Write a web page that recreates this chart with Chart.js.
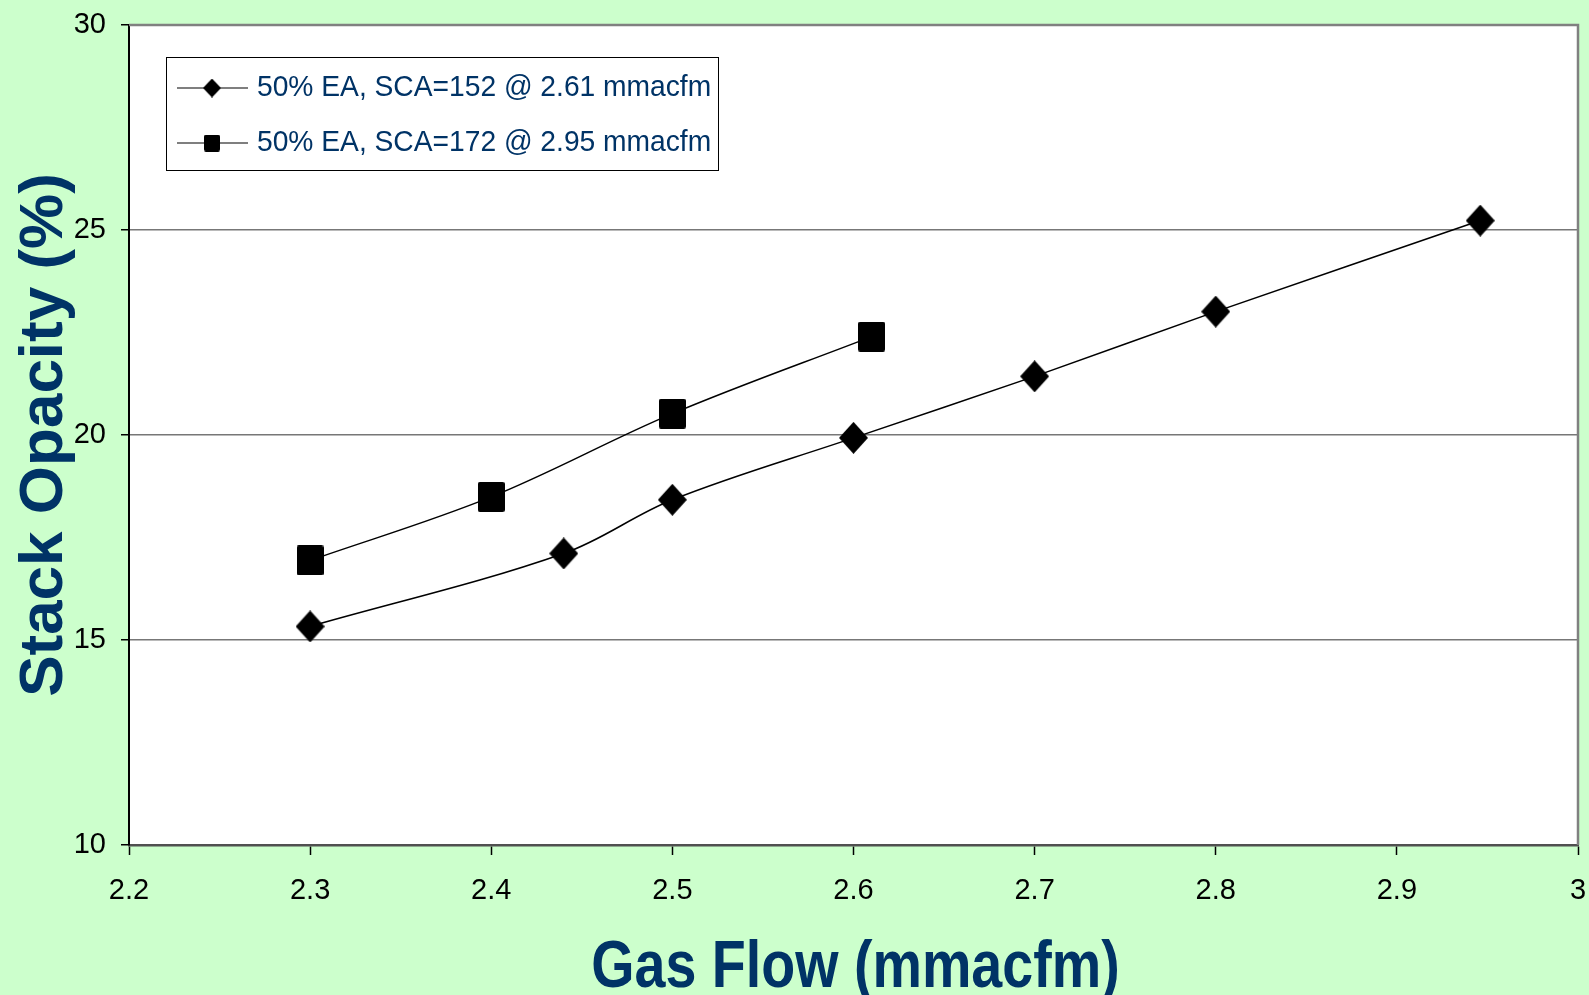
<!DOCTYPE html>
<html>
<head>
<meta charset="utf-8">
<script src="https://cdn.jsdelivr.net/npm/chart.js@4.4.1/dist/chart.umd.min.js"></script>
<style>
  html, body { margin: 0; padding: 0; background: #ccffcc; }
  #chart { display: block; }
</style>
</head>
<body>
<canvas id="chart" width="1589" height="995"></canvas>
<script>
const seriesLabels = ['50% EA, SCA=152 @ 2.61 mmacfm', '50% EA, SCA=172 @ 2.95 mmacfm'];
const flow152 = [2.30, 2.44, 2.50, 2.60, 2.70, 2.80, 2.946];
const opacity152 = [15.33, 17.11, 18.42, 19.93, 21.43, 23.01, 25.23];
const flow172 = [2.30, 2.40, 2.50, 2.61];
const opacity172 = [16.94, 18.49, 20.52, 22.40];
const xTickLabels = ['2.2', '2.3', '2.4', '2.5', '2.6', '2.7', '2.8', '2.9', '3'];
const yTickLabels = ['10', '15', '20', '25', '30'];
const xTitle = 'Gas Flow (mmacfm)';
const yTitle = 'Stack Opacity (%)';

const navy = '#003366';
const baseFont = "'Liberation Sans', Arial, sans-serif";
Chart.defaults.font.family = baseFont;

// marker bitmaps, a touch taller than wide
function makeDiamond(w, h) {
  const c = document.createElement('canvas');
  c.width = w; c.height = h;
  const g = c.getContext('2d');
  g.fillStyle = '#000';
  g.beginPath();
  g.moveTo(w / 2, 0);
  g.lineTo(w, h / 2);
  g.lineTo(w / 2, h);
  g.lineTo(0, h / 2);
  g.closePath();
  g.fill();
  return c;
}
function makeSquare(w, h) {
  const c = document.createElement('canvas');
  c.width = w; c.height = h;
  const g = c.getContext('2d');
  g.fillStyle = '#000';
  g.beginPath();
  g.roundRect(0, 0, w, h, 2);
  g.fill();
  return c;
}
const diamond = makeDiamond(29, 32);
const square = makeSquare(27, 30);
const legendIcons = [makeDiamond(18, 19), makeSquare(16, 17)];

function toPoints(xs, ys) {
  return xs.map((x, i) => ({ x: x, y: ys[i] }));
}

// white plot area on the green page
const plotBackground = {
  id: 'plotBackground',
  beforeDraw(chart) {
    const { ctx, chartArea: a } = chart;
    ctx.save();
    ctx.fillStyle = '#fff';
    ctx.fillRect(a.left, a.top, a.right - a.left, a.bottom - a.top);
    ctx.restore();
  }
};

// gray frame along top and right of the plot area
const plotFrame = {
  id: 'plotFrame',
  afterDatasetsDraw(chart) {
    const { ctx, chartArea: a } = chart;
    ctx.save();
    ctx.strokeStyle = '#808080';
    ctx.lineWidth = 2.5;
    ctx.beginPath();
    ctx.moveTo(a.left, a.top);
    ctx.lineTo(a.right, a.top);
    ctx.lineTo(a.right, a.bottom);
    ctx.stroke();
    ctx.restore();
  }
};

// condensed bold x-axis title under the tick labels
const condensedXTitle = {
  id: 'condensedXTitle',
  afterDraw(chart) {
    const { ctx, chartArea: a } = chart;
    ctx.save();
    ctx.font = 'bold 67px ' + baseFont;
    ctx.fillStyle = navy;
    ctx.textAlign = 'center';
    ctx.textBaseline = 'alphabetic';
    ctx.translate((a.left + a.right) / 2 + 2, a.bottom + 142);
    ctx.scale(0.83, 1);
    ctx.fillText(xTitle, 0, 0);
    ctx.restore();
  }
};

// boxed legend inside the plot, line-through-marker style
const boxLegend = {
  id: 'boxLegend',
  afterDraw(chart) {
    const { ctx, chartArea: a } = chart;
    const left = a.left + 37, top = a.top + 32, w = 552, h = 113;
    ctx.save();
    ctx.fillStyle = '#fff';
    ctx.fillRect(left, top, w, h);
    ctx.strokeStyle = '#000';
    ctx.lineWidth = 1;
    ctx.strokeRect(left + 0.5, top + 0.5, w, h);
    ctx.font = '30px ' + baseFont;
    ctx.textBaseline = 'middle';
    chart.data.datasets.forEach((ds, i) => {
      const y = top + 31 + i * 55;
      ctx.strokeStyle = '#000';
      ctx.lineWidth = 1.2;
      ctx.beginPath();
      ctx.moveTo(left + 11, y);
      ctx.lineTo(left + 82, y);
      ctx.stroke();
      const icon = legendIcons[i];
      ctx.drawImage(icon, left + 46 - icon.width / 2, y - icon.height / 2);
      ctx.save();
      ctx.translate(left + 91, y);
      ctx.scale(0.94, 1);
      ctx.fillStyle = navy;
      ctx.fillText(ds.label, 0, 0);
      ctx.restore();
    });
    ctx.restore();
  }
};

new Chart(document.getElementById('chart'), {
  type: 'line',
  data: {
    datasets: [
      {
        label: seriesLabels[0],
        data: toPoints(flow152, opacity152),
        borderColor: '#000',
        borderWidth: 1.5,
        tension: 0.35,
        pointStyle: diamond,
        fill: false
      },
      {
        label: seriesLabels[1],
        data: toPoints(flow172, opacity172),
        borderColor: '#000',
        borderWidth: 1.5,
        tension: 0.35,
        pointStyle: square,
        fill: false
      }
    ]
  },
  options: {
    responsive: false,
    animation: false,
    layout: { padding: { top: 25, right: 11, left: 0, bottom: 0 } },
    plugins: {
      legend: { display: false },
      tooltip: { enabled: false }
    },
    scales: {
      x: {
        type: 'linear',
        min: 2.2,
        max: 3.0,
        afterFit: (scale) => {
          scale.height = 150;
          scale.paddingLeft = 0;
          scale.paddingRight = 0;
        },
        ticks: {
          stepSize: 0.1,
          padding: 19,
          color: '#000',
          font: { size: 29 },
          maxRotation: 0,
          callback: (value, index) => xTickLabels[index]
        },
        grid: {
          drawOnChartArea: false,
          drawTicks: true,
          tickLength: 10,
          tickColor: '#000',
          tickWidth: 1.5
        },
        border: { color: '#505050', width: 2.5 }
      },
      y: {
        min: 10,
        max: 30,
        afterFit: (scale) => {
          scale.width = 129;
          scale.paddingTop = 0;
          scale.paddingBottom = 0;
        },
        ticks: {
          stepSize: 5,
          padding: 15,
          color: '#000',
          font: { size: 29 },
          callback: (value, index) => yTickLabels[index]
        },
        grid: {
          color: '#777',
          lineWidth: 1.5,
          tickLength: 8,
          tickColor: '#000',
          tickWidth: 1.5
        },
        border: { color: '#000', width: 2 },
        title: {
          display: true,
          text: yTitle,
          color: navy,
          font: { size: 62, weight: 'bold', lineHeight: 1 },
          padding: { top: 14, bottom: 0 }
        }
      }
    }
  },
  plugins: [plotBackground, plotFrame, condensedXTitle, boxLegend]
});
</script>
</body>
</html>
